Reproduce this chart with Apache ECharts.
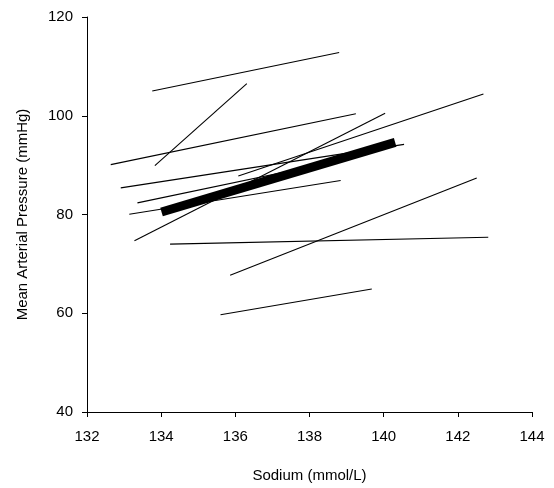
<!DOCTYPE html>
<html>
<head>
<meta charset="utf-8">
<script src="https://cdn.jsdelivr.net/npm/echarts@6/dist/echarts.min.js"></script>
<style>html,body{margin:0;padding:0;background:#fff}#c{width:554px;height:488px}</style>
</head>
<body>
<div id="c"></div>
<script>
// Individual regression lines: start (x1,y1) -> end (x2,y2)
var startSodium = [133.76, 133.83, 132.64, 132.91, 133.36, 133.14, 133.28, 136.08, 134.24, 135.86, 135.60];
var startMAP    = [105.0,  89.9,   90.1,   85.4,   82.35,  80.06,  74.7,   87.8,   74.0,   67.7,   59.7];
var endSodium   = [138.80, 136.31, 139.25, 140.55, 139.30, 138.84, 140.04, 142.69, 142.82, 142.51, 139.68];
var endMAP      = [112.8,  106.5,  100.4,  94.2,   91.7,   86.9,   100.5,  104.4,  75.4,   87.4,   64.9];
// Pooled (thick) line
var pooledSodium = [134.01, 140.31];
var pooledMAP    = [80.5, 94.6];
var xTicks = [132, 134, 136, 138, 140, 142, 144];
var yTicks = [40, 60, 80, 100, 120];

var font = 'Liberation Sans, Arial, sans-serif';
var series = [];
for (var i = 0; i < startSodium.length; i++) {
  series.push({
    type: 'line', silent: true, showSymbol: false, symbol: 'none',
    data: [[startSodium[i], startMAP[i]], [endSodium[i], endMAP[i]]],
    lineStyle: { color: '#000', width: 1.1 }
  });
}
series.push({
  type: 'line', silent: true, showSymbol: false, symbol: 'none',
  data: [[pooledSodium[0], pooledMAP[0]], [pooledSodium[1], pooledMAP[1]]],
  lineStyle: { color: '#000', width: 9, cap: 'butt' }
});

var chart = echarts.init(document.getElementById('c'), null, { renderer: 'canvas' });
chart.setOption({
  animation: false,
  backgroundColor: '#fff',
  grid: { left: 87, right: 22, top: 17, bottom: 73, containLabel: false },
  xAxis: {
    type: 'value', min: xTicks[0], max: xTicks[xTicks.length - 1], interval: 2,
    name: 'Sodium (mmol/L)', nameLocation: 'middle', nameGap: 56,
    nameTextStyle: { fontFamily: font, fontSize: 15, color: '#000' },
    axisLine: { show: true, onZero: false, lineStyle: { color: '#000', width: 1 } },
    axisTick: { show: true, inside: false, length: 5, lineStyle: { color: '#000' } },
    axisLabel: { fontFamily: font, fontSize: 15, color: '#000', margin: 17 },
    splitLine: { show: false }
  },
  yAxis: {
    type: 'value', min: yTicks[0], max: yTicks[yTicks.length - 1], interval: 20,
    name: 'Mean Arterial Pressure (mmHg)', nameLocation: 'middle', nameGap: 57, nameRotate: 90,
    nameTextStyle: { fontFamily: font, fontSize: 15, color: '#000' },
    axisLine: { show: true, onZero: false, lineStyle: { color: '#000', width: 1 } },
    axisTick: { show: true, inside: false, length: 5, lineStyle: { color: '#000' } },
    axisLabel: { fontFamily: font, fontSize: 15, color: '#000', margin: 14 },
    splitLine: { show: false }
  },
  series: series
});
</script>
</body>
</html>
